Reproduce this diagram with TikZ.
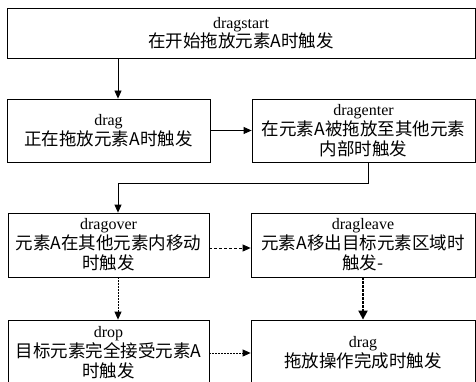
\documentclass[tikz,border=0pt]{standalone}
\usepackage{fontspec}
\setmainfont{Liberation Serif}
\newfontfamily\cjk{Noto Sans CJK SC}
\usetikzlibrary{arrows.meta}
\tikzset{
  box/.style={draw=black, line width=0.8pt, rectangle, inner sep=0pt, align=center,
    font=\fontsize{16}{20}\selectfont},
  arr/.style={line width=0.8pt, -{Triangle[length=8pt,width=7pt]}},
  dashedarr/.style={arr, dash pattern=on 3pt off 2pt},
  dotarr/.style={arr, dash pattern=on 1.5pt off 1.5pt},
  thickarr/.style={arr, line width=2pt, dash pattern=on 3pt off 1pt, -{Triangle[length=9pt,width=9pt]}},
}
\newcommand{\zh}[1]{{\cjk\fontsize{17.5}{20}\selectfont #1}}
\begin{document}
\begin{tikzpicture}[x=1pt,y=-1pt]
\useasboundingbox (0,0) rectangle (476,382);
\clip (0,0) rectangle (476,382);
\node[box, minimum width=468pt, minimum height=50pt] (start) at (241,33)
  {dragstart\\[-1pt]\zh{在开始拖放元素A时触发}};
\node[box, minimum width=203pt, minimum height=63pt] (drag) at (108.5,130.5)
  {drag\\\zh{正在拖放元素A时触发}};
\node[box, minimum width=223pt, minimum height=63pt] (enter) at (363.5,130.5)
  {dragenter\\\zh{在元素A被拖放至其他元素}\\\zh{内部时触发}};
\node[box, minimum width=201pt, minimum height=64pt] (over) at (108.5,245)
  {dragover\\\zh{元素A在其他元素内移动}\\\zh{时触发}};
\node[box, minimum width=224pt, minimum height=64pt] (leave) at (363,245)
  {dragleave\\\zh{元素A移出目标元素区域时}\\\zh{触发-}};
\node[box, minimum width=201pt, minimum height=66pt] (drop) at (108.5,353)
  {drop\\\zh{目标元素完全接受元素A}\\\zh{时触发}};
\node[box, minimum width=224pt, minimum height=66pt] (end) at (363,353)
  {drag\\\zh{拖放操作完成时触发}};
\coordinate (lx) at (118,0);
\coordinate (rx) at (368,0);
\coordinate (bend) at (118,183);
\coordinate (my) at (0,248);
\draw[arr] (start.south -| lx) -- (drag.north -| lx);
\draw[arr] (drag.east) -- (enter.west);
\draw[arr] (enter.south -| rx) |- (bend) -- (over.north -| bend);
\draw[dashedarr] (over.east |- my) -- (leave.west |- my);
\draw[dotarr] (over.south -| lx) -- (drop.north -| lx);
\draw[thickarr] (leave.south) -- (end.north);
\draw[dotarr] (drop.east) -- (end.west);
\end{tikzpicture}
\end{document}
